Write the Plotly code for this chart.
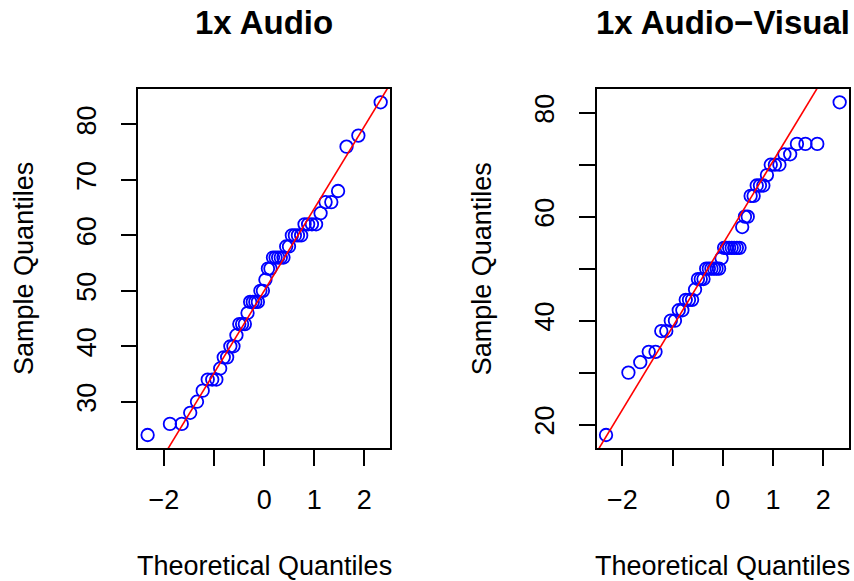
import numpy as np
import plotly.graph_objects as go
from statistics import NormalDist

# ---- data (sorted sample values) ----
audio = [24, 26, 26, 28, 30, 32, 34, 34, 34, 36, 38, 38, 40, 40, 42, 44, 44, 44,
         46, 48, 48, 48, 48, 50, 50, 52, 54, 54, 56, 56, 56, 56, 56, 58, 58,
         60, 60, 60, 60, 62, 62, 62, 62, 64, 66, 66, 68, 76, 78, 84]
audio_visual = [18, 30, 32, 34, 34, 38, 38, 40, 40, 42, 42, 44, 44, 44, 46,
                48, 48, 48, 50, 50, 50, 50, 50, 50, 52, 54, 54, 54, 54, 54, 54,
                54, 58, 60, 60, 64, 64, 66, 66, 66, 68, 70, 70, 70, 72, 72,
                74, 74, 74, 82]
titles = ["1x Audio", "1x Audio\u2212Visual"]
x_ticks = [-2, -1, 0, 1, 2]
x_ticktext = ["\u22122", "", "0", "1", "2"]
y_ticks_1 = [30, 40, 50, 60, 70, 80]
y_ticktext_1 = ["30", "40", "50", "60", "70", "80"]
y_ticks_2 = [20, 30, 40, 50, 60, 70, 80]
y_ticktext_2 = ["20", "", "40", "", "60", "", "80"]

W, H = 854, 581
FONT = "Liberation Sans, Arial, Helvetica, sans-serif"


def theo_quantiles(n):
    nd = NormalDist()
    return [nd.inv_cdf((i + 0.5) / n) for i in range(n)]


def qqline(y):
    q1, q3 = np.percentile(y, [25, 75])
    z1, z3 = NormalDist().inv_cdf(0.25), NormalDist().inv_cdf(0.75)
    slope = (q3 - q1) / (z3 - z1)
    return slope, q1 - slope * z1


def ext(lo, hi):
    d = (hi - lo) * 0.04
    return [lo - d, hi + d]


fig = go.Figure()
panels = [
    (audio, "x", "y", [138.3, 390.0], y_ticks_1, y_ticktext_1),
    (audio_visual, "x2", "y2", [596.7, 849.0], y_ticks_2, y_ticktext_2),
]
ydom = [1 - 448.3 / H, 1 - 89.0 / H]

layout = dict(width=W, height=H, margin=dict(l=0, r=0, t=0, b=0),
              paper_bgcolor="white", plot_bgcolor="white", showlegend=False,
              font=dict(family=FONT, color="black", size=27))
annotations = []
for k, (vals, xa, ya, xpx, yt, ytt) in enumerate(panels):
    tq = theo_quantiles(len(vals))
    xr = ext(min(tq), max(tq))
    yr = ext(min(vals), max(vals))
    slope, icpt = qqline(vals)
    fig.add_trace(go.Scatter(
        x=tq, y=vals, xaxis=xa, yaxis=ya, mode="markers",
        marker=dict(symbol="circle-open", size=12.5, color="#0000FF",
                    line=dict(width=1.8, color="#0000FF")),
        hoverinfo="x+y"))
    fig.add_trace(go.Scatter(
        x=xr, y=[icpt + slope * xr[0], icpt + slope * xr[1]],
        xaxis=xa, yaxis=ya, mode="lines",
        line=dict(color="#FF0000", width=1.6), hoverinfo="skip"))
    sfx = "" if k == 0 else "2"
    common = dict(showgrid=False, zeroline=False, showline=True, mirror=True,
                  linecolor="black", linewidth=1.6, ticks="outside",
                  ticklen=16, tickwidth=1.5, tickcolor="black",
                  tickfont=dict(family=FONT, size=27, color="black"))
    layout["xaxis" + sfx] = dict(
        domain=[xpx[0] / W, xpx[1] / W], range=xr, tickvals=x_ticks,
        ticktext=x_ticktext, anchor="y" + sfx, ticklabelstandoff=10, **common)
    layout["yaxis" + sfx] = dict(
        domain=ydom, range=yr, tickvals=yt, ticktext=ytt, tickangle=-90,
        anchor="x" + sfx, ticklabelstandoff=14, **common)
    cx = (xpx[0] + xpx[1]) / 2 / W
    annotations.append(dict(text="<b>%s</b>" % titles[k], x=cx, y=1 - 23 / H,
                            xref="paper", yref="paper", showarrow=False,
                            xanchor="center", yanchor="middle",
                            font=dict(family=FONT, size=33, color="black")))
    annotations.append(dict(text="Theoretical Quantiles", x=cx, y=1 - 566 / H,
                            xref="paper", yref="paper", showarrow=False,
                            xanchor="center", yanchor="middle",
                            font=dict(family=FONT, size=27, color="black")))
    annotations.append(dict(text="Sample Quantiles",
                            x=(xpx[0] - 115) / W, y=(ydom[0] + ydom[1]) / 2,
                            xref="paper", yref="paper", showarrow=False,
                            textangle=-90, xanchor="center", yanchor="middle",
                            font=dict(family=FONT, size=27, color="black")))

layout["annotations"] = annotations
fig.update_layout(**layout)
fig.write_html("out.html")
